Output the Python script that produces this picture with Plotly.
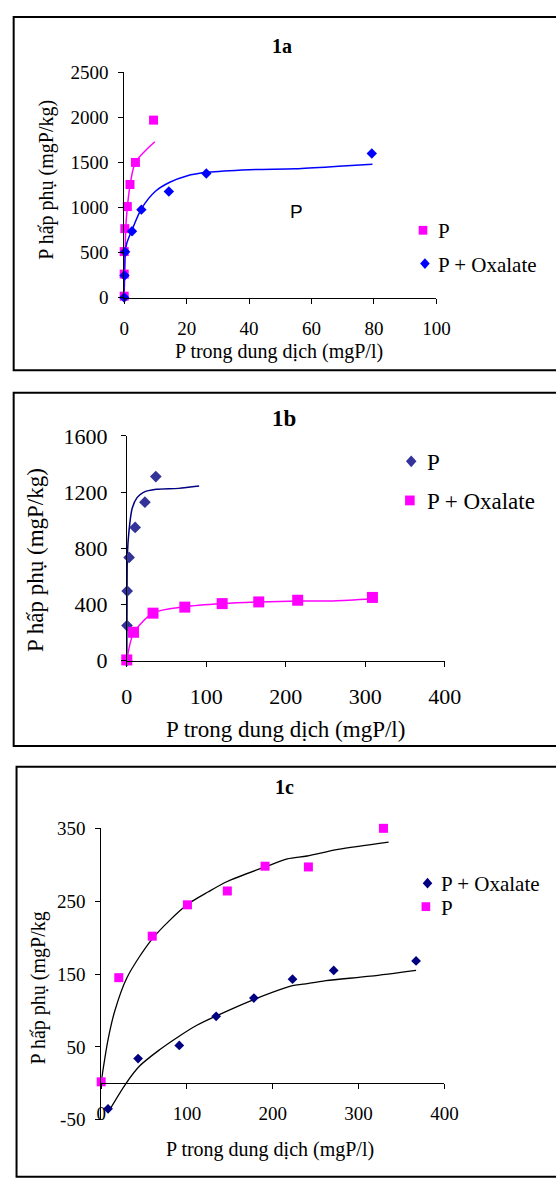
import plotly.graph_objects as go

# ---------------- data ----------------
# Panel 1a
a_p_x = [0, 0, 0, 0.2, 1.0, 1.85, 3.6, 9.4]
a_p_y = [15, 260, 510, 765, 1010, 1255, 1500, 1970]
a_p_fit_x = [0, 0.2, 0.5, 1.0, 1.9, 3.6, 9.8]
a_p_fit_y = [0, 400, 770, 1000, 1250, 1500, 1730]
a_ox_x = [0, 0.1, 0.3, 2.5, 5.5, 14.3, 26.3, 79.3]
a_ox_y = [0, 245, 507, 736, 976, 1178, 1377, 1600]
a_ox_fit_x = [0, 0.3, 0.8, 2.6, 5.6, 10, 14.6, 20, 26.6, 40, 55, 70, 79.5]
a_ox_fit_y = [0, 480, 600, 760, 990, 1180, 1280, 1350, 1390, 1420, 1430, 1460, 1480]

# Panel 1b
b_p_x = [0, 0.3, 0.5, 2.9, 10.5, 22.8, 36.5]
b_p_y = [0, 250, 495, 735, 948, 1128, 1310]
b_p_fit_x = [0, 0.3, 0.8, 2.8, 6.8, 12.9, 21, 37, 65, 91]
b_p_fit_y = [0, 400, 760, 925, 1085, 1160, 1198, 1219, 1226, 1243]
b_ox_x = [0, 8.5, 33, 73, 120, 166, 215, 309]
b_ox_y = [5, 202, 338, 381, 406, 418, 430, 450]
b_ox_fit_x = [0, 8.5, 33, 73, 120, 166, 215, 260, 309]
b_ox_fit_y = [0, 195, 338, 383, 406, 418, 425, 425, 440]

# Panel 1c
c_ox_x = [8, 43, 91, 134, 178, 223, 271, 367]
c_ox_y = [-35, 34, 52, 92, 117, 143, 155, 168]
c_ox_fit_x = [8, 29, 45, 68, 90, 112, 135, 180, 223, 235, 262, 314, 367]
c_ox_fit_y = [-40, 0, 24, 46, 64, 80, 93, 116, 134, 136, 141, 147, 155]
c_p_x = [0, 20.5, 59.5, 100.5, 147, 191, 241.5, 329]
c_p_y = [2, 145, 202, 245, 264, 298, 297, 350]
c_p_fit_x = [0, 8, 16, 30, 60, 100, 125, 147, 191, 217, 240, 276, 335]
c_p_fit_y = [2, 60, 100, 145, 199, 245, 263, 277, 297, 308, 312, 321, 331]

c_y_ticks = [-50, 50, 150, 250, 350]
c_y_ticktext = ["-50", "50", "150", "250", "350"]

titles = ["1a", "1b", "1c"]
x_title = "P trong dung dịch (mgP/l)"
y_titles = ["P hấp phụ (mgP/kg)", "P hấp phụ (mgP/kg)", "P hấp phụ (mgP/kg"]
legend_a = ["P", "P + Oxalate"]
legend_b = ["P", "P + Oxalate"]
legend_c = ["P + Oxalate", "P"]

# ---------------- layout helpers ----------------
W, H = 556, 1180
def fx(px):
    return px / W
def fy(py):
    return 1 - py / H

SERIF = "Liberation Serif"
SANS = "Liberation Sans"
MAG = "#FF00FF"
BLUE = "#0000FF"
SLATE = "#333399"
NAVY = "#000080"

fig = go.Figure()

def markers(x, y, name, color, symbol, size, xa, ya):
    fig.add_trace(go.Scatter(x=x, y=y, mode="markers", name=name, showlegend=False,
                             marker=dict(color=color, symbol=symbol, size=size, line=dict(width=0)),
                             xaxis=xa, yaxis=ya, cliponaxis=False))

def fit(x, y, color, xa, ya, width=1.5):
    fig.add_trace(go.Scatter(x=x, y=y, mode="lines", showlegend=False,
                             line=dict(color=color, width=width, shape="spline", smoothing=0.8),
                             xaxis=xa, yaxis=ya, cliponaxis=False, hoverinfo="skip"))

# 1a
fit(a_p_fit_x, a_p_fit_y, MAG, "x", "y")
fit(a_ox_fit_x, a_ox_fit_y, BLUE, "x", "y")
markers(a_p_x, a_p_y, legend_a[0], MAG, "square", 9, "x", "y")
markers(a_ox_x, a_ox_y, legend_a[1], BLUE, "diamond", 8, "x", "y")
# 1b
fit(b_p_fit_x, b_p_fit_y, NAVY, "x2", "y2")
fit(b_ox_fit_x, b_ox_fit_y, MAG, "x2", "y2")
markers(b_p_x, b_p_y, legend_b[0], SLATE, "diamond", 9, "x2", "y2")
markers(b_ox_x, b_ox_y, legend_b[1], MAG, "square", 11, "x2", "y2")
# 1c
fit(c_p_fit_x, c_p_fit_y, "black", "x3", "y3", 1.3)
fit(c_ox_fit_x, c_ox_fit_y, "black", "x3", "y3", 1.3)
markers(c_ox_x, c_ox_y, legend_c[0], NAVY, "diamond", 7.5, "x3", "y3")
markers(c_p_x, c_p_y, legend_c[1], MAG, "square", 9, "x3", "y3")

def axis_common(size, standoff):
    return dict(showline=True, linecolor="black", linewidth=1, ticks="outside", ticklen=5,
                tickcolor="black", tickwidth=1, showgrid=False, zeroline=False,
                ticklabelstandoff=standoff,
                tickfont=dict(family=SERIF, size=size, color="black"), fixedrange=True)

# pixel boxes of plot areas: (left, right, top, bottom)
boxA = (123.3, 449.0, 61.7, 291.7)
boxB = (126.0, 457.7, 433.0, 662.7)
boxC = (99.3, 457.3, 834.0, 1131.7)

fig.update_layout(
    xaxis=dict(domain=[fx(boxA[0]), fx(boxA[1])], range=[0, 100], dtick=20, anchor="y", **axis_common(19, 9)),
    yaxis=dict(domain=[fy(boxA[3]), fy(boxA[2])], range=[0, 2500], dtick=500, anchor="x", **axis_common(19, 6)),
    xaxis2=dict(domain=[fx(boxB[0]), fx(boxB[1])], range=[0, 400], dtick=100, anchor="y2", **axis_common(22, 11)),
    yaxis2=dict(domain=[fy(boxB[3]), fy(boxB[2])], range=[0, 1600], dtick=400, anchor="x2", **axis_common(22, 9)),
    xaxis3=dict(domain=[fx(boxC[0]), fx(boxC[1])], range=[0, 400], dtick=100, anchor="free",
                position=fy(boxC[3] - (boxC[3] - boxC[2]) * 50 / 400), **axis_common(19, 8)),
    yaxis3=dict(domain=[fy(boxC[3]), fy(boxC[2])], range=[-50, 350], tickvals=c_y_ticks,
                ticktext=c_y_ticktext, anchor="x3", **axis_common(19, 6)),
)

ann = []
shapes = []
def text(x, y, s, size, bold=False, angle=0, family=SERIF, anchor="center"):
    ann.append(dict(x=fx(x), y=fy(y), xref="paper", yref="paper", text=("<b>%s</b>" % s) if bold else s,
                    showarrow=False, xanchor=anchor, yanchor="middle", textangle=angle,
                    font=dict(family=family, size=size, color="black")))

def sym(kind, cx, cy, s, color):
    if kind == "square":
        h = s / 2
        shapes.append(dict(type="rect", xref="paper", yref="paper", x0=fx(cx - h), x1=fx(cx + h),
                           y0=fy(cy + h), y1=fy(cy - h), fillcolor=color, line=dict(width=0)))
    else:
        hw, hh = s / 2, s / 2 + 0.5
        p = "M%f,%f L%f,%f L%f,%f L%f,%f Z" % (fx(cx), fy(cy - hh), fx(cx + hw), fy(cy), fx(cx), fy(cy + hh), fx(cx - hw), fy(cy))
        shapes.append(dict(type="path", xref="paper", yref="paper", path=p, fillcolor=color, line=dict(width=0)))

# legends
sym("square", 435, 223, 9, MAG); text(449, 224, legend_a[0], 21, anchor="left")
sym("diamond", 437, 257, 10, BLUE); text(449, 258, legend_a[1], 21, anchor="left")
sym("diamond", 422.7, 459, 11, SLATE); text(437, 460, legend_b[0], 23, anchor="left")
sym("square", 421.3, 499, 10, MAG); text(437, 500, legend_b[1], 23, anchor="left")
sym("diamond", 439.7, 890, 10, NAVY); text(452, 891, legend_c[0], 21, anchor="left")
sym("square", 438, 914, 9, MAG); text(452, 915, legend_c[1], 21, anchor="left")

text(288, 35, titles[0], 20, bold=True)
text(290, 415, titles[1], 23, bold=True)
text(290, 792, titles[2], 20, bold=True)
text(285, 347, x_title, 20)
text(292, 733, x_title, 23)
text(275, 1162, x_title, 20)
text(42, 171, y_titles[0], 20, angle=-90)
text(30, 560, y_titles[1], 23, angle=-90)
text(34, 997, y_titles[2], 20, angle=-90)
text(303, 204, "P", 19, family=SANS)

for (x0, y0, y1) in [(8, 5, 366), (8, 389, 750), (11, 771, 1190)]:
    shapes.append(dict(type="rect", xref="paper", yref="paper", x0=fx(x0), x1=fx(W + 20),
                       y0=fy(y1), y1=fy(y0), line=dict(color="black", width=2), fillcolor="rgba(0,0,0,0)",
                       layer="below"))

fig.update_layout(width=W, height=H, margin=dict(l=0, r=0, t=0, b=0), paper_bgcolor="white",
                  plot_bgcolor="rgba(0,0,0,0)", annotations=ann, shapes=shapes, showlegend=False)

fig.write_html("out.html", config={"displayModeBar": False},
               post_script="document.body.style.margin='0';document.body.style.overflow='hidden';")
